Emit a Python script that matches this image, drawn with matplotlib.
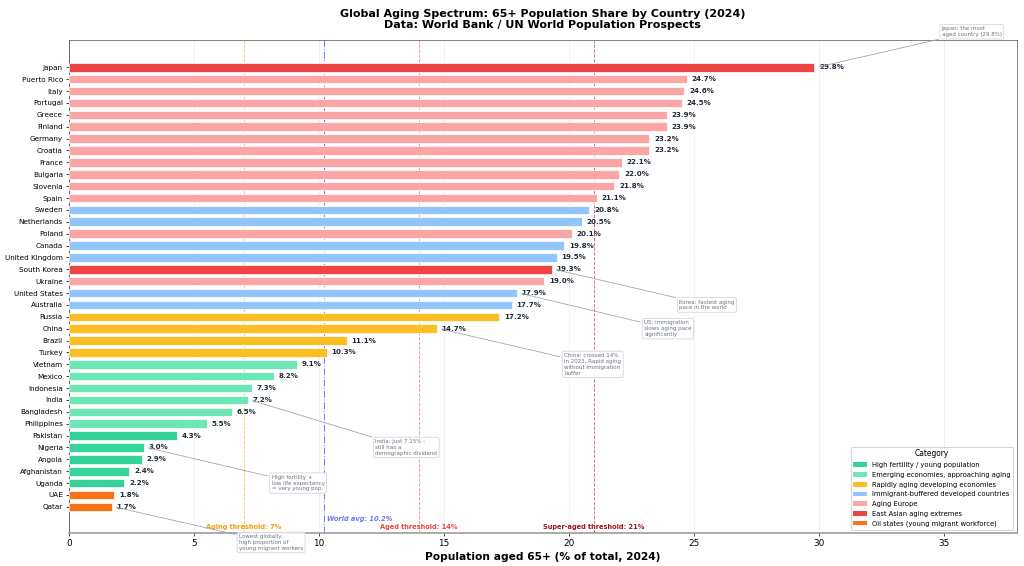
import matplotlib
matplotlib.use("Agg")
import matplotlib.pyplot as plt
from matplotlib.patches import Patch

countries = ["Japan", "Puerto Rico", "Italy", "Portugal", "Greece", "Finland", "Germany",
             "Croatia", "France", "Bulgaria", "Slovenia", "Spain", "Sweden", "Netherlands",
             "Poland", "Canada", "United Kingdom", "South Korea", "Ukraine", "United States",
             "Australia", "Russia", "China", "Brazil", "Turkey", "Vietnam", "Mexico",
             "Indonesia", "India", "Bangladesh", "Philippines", "Pakistan", "Nigeria",
             "Angola", "Afghanistan", "Uganda", "UAE", "Qatar"]
values = [29.8, 24.7, 24.6, 24.5, 23.9, 23.9, 23.2, 23.2, 22.1, 22.0, 21.8, 21.1, 20.8,
          20.5, 20.1, 19.8, 19.5, 19.3, 19.0, 17.9, 17.7, 17.2, 14.7, 11.1, 10.3, 9.1,
          8.2, 7.3, 7.15, 6.5, 5.5, 4.3, 3.0, 2.9, 2.4, 2.2, 1.8, 1.7]
groups = ["East Asian aging extremes"] + ["Aging Europe"] * 11 + \
    ["Immigrant-buffered developed countries"] * 2 + ["Aging Europe"] + \
    ["Immigrant-buffered developed countries"] * 2 + ["East Asian aging extremes"] + \
    ["Aging Europe"] + ["Immigrant-buffered developed countries"] * 2 + \
    ["Rapidly aging developing economies"] * 4 + \
    ["Emerging economies, approaching aging"] * 6 + \
    ["High fertility / young population"] * 5 + \
    ["Oil states (young migrant workforce)"] * 2

category_names = ["High fertility / young population",
                  "Emerging economies, approaching aging",
                  "Rapidly aging developing economies",
                  "Immigrant-buffered developed countries",
                  "Aging Europe",
                  "East Asian aging extremes",
                  "Oil states (young migrant workforce)"]
category_colors = ["#34d399", "#6ee7b7", "#fbbf24", "#93c5fd", "#fca5a5", "#ef4444", "#f97316"]

world_avg = 10.2
thresholds = [7, 14, 21]
threshold_labels = ["Aging threshold: 7%", "Aged threshold: 14%", "Super-aged threshold: 21%"]
threshold_colors = ["#f59e0b", "#ef4444", "#991b1b"]

notes_country = ["Japan", "South Korea", "United States", "China", "India", "Nigeria", "Qatar"]
notes_text = ["Japan: the most\naged country (29.8%)",
              "Korea: fastest aging\npace in the world",
              "US: immigration\nslows aging pace\nsignificantly",
              "China: crossed 14%\nin 2023. Rapid aging\nwithout immigration\nbuffer",
              "India: just 7.15% -\nstill has a\ndemographic dividend",
              "High fertility +\nlow life expectancy\n= very young pop.",
              "Lowest globally:\nhigh proportion of\nyoung migrant workers"]
notes_dy = [3.0, -3.0, -3.0, -3.0, -4.0, -3.0, -3.0]

color_map = dict(zip(category_names, category_colors))
n = len(countries)
ypos = [n - 1 - i for i in range(n)]

fig = plt.figure(figsize=(16, 8.84375), dpi=64)
ax = fig.add_axes([0.0674, 0.0583, 0.9256, 0.8710])

ax.barh(ypos, values, height=0.72, color=[color_map[g] for g in groups],
        edgecolor="white", linewidth=0.8, zorder=3)

for y, v in zip(ypos, values):
    ax.text(v + 0.2, y, f"{v:.1f}%", va="center", ha="left", fontsize=8,
            fontweight="bold", color="#1f2937", zorder=4)

ax.set_yticks(ypos)
ax.set_yticklabels(countries, fontsize=8.2)
ax.tick_params(axis="x", labelsize=10)
ax.set_xlim(0, 37.9)
ax.set_ylim(-2.2, n - 1 + 2.3)

ax.grid(axis="x", linestyle="--", alpha=0.3, zorder=0)
ax.set_axisbelow(True)

# thresholds
for t, lab, c in zip(thresholds, threshold_labels, threshold_colors):
    ax.axvline(t, color=c, linestyle="--", linewidth=1.0, alpha=0.6, zorder=2)
    ax.text(t, -1.7, lab, ha="center", va="center", fontsize=7.5,
            fontweight="bold", color=c, zorder=5)
ax.axvline(world_avg, color="#6366f1", linestyle="-.", linewidth=1.2, alpha=0.8, zorder=2)
ax.text(world_avg + 0.1, -1.0, f"World avg: {world_avg}%", ha="left", va="center",
        fontsize=7.5, fontweight="bold", fontstyle="italic", color="#6366f1", alpha=0.9, zorder=5)

# annotations
for c, txt, dy in zip(notes_country, notes_text, notes_dy):
    i = countries.index(c)
    v = values[i]
    y = ypos[i]
    ax.annotate(txt, xy=(v + 0.1, y), xytext=(v + 5.1, y + dy),
                fontsize=6.2, color="#6b7280", ha="left", va="center",
                annotation_clip=False,
                bbox=dict(boxstyle="round,pad=0.35", fc="white", ec="#d1d5db", alpha=0.9),
                arrowprops=dict(arrowstyle="->", color="#9ca3af", lw=0.9),
                zorder=6)

ax.set_xlabel("Population aged 65+ (% of total, 2024)", fontsize=12, fontweight="bold")
ax.set_title("Global Aging Spectrum: 65+ Population Share by Country (2024)\n"
             "Data: World Bank / UN World Population Prospects",
             fontsize=12.5, fontweight="bold", pad=14, linespacing=1.1)

ax.spines["left"].set_color("#333333")
ax.spines["top"].set_color("#555555")
ax.spines["right"].set_color("#555555")
ax.spines["bottom"].set_color("#999999")
ax.spines["bottom"].set_linewidth(1.8)

handles = [Patch(facecolor=c, label=l) for l, c in zip(category_names, category_colors)]
leg = ax.legend(handles=handles, title="Category", loc="lower right", fontsize=7.6,
                title_fontsize=8.5, frameon=True, framealpha=0.9, labelspacing=0.55)

fig.savefig("out.png", dpi=64)
